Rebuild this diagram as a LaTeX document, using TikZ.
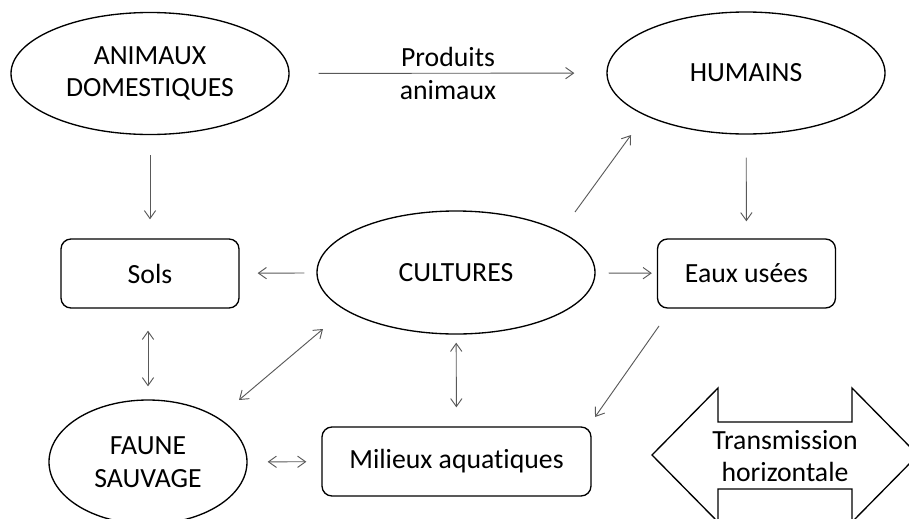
\documentclass[tikz,border=0pt]{standalone}
\usepackage{fontspec}
\setmainfont{Carlito}[Ligatures=NoCommon]
\usetikzlibrary{shapes.geometric,arrows.meta,calc}

\begin{document}
\begin{tikzpicture}[x=0.75pt,y=0.75pt,yscale=-1,xscale=1,
	every node/.style={font=\fontsize{20.8}{24.5}\selectfont, align=center},
	rond/.style={draw, ellipse, line width=1pt, inner sep=0pt, minimum width=208.5pt, minimum height=91.5pt},
	boite/.style={draw, rounded corners=7.5pt, line width=1pt, inner sep=0pt, minimum width=133.5pt, minimum height=51.75pt},
	fleche/.style={draw=black!65, line width=0.7pt, -{Straight Barb[length=6pt,width=8.5pt]}},
	fleche2/.style={fleche, {Straight Barb[length=6pt,width=8.5pt]}-{Straight Barb[length=6pt,width=8.5pt]}}]
	\useasboundingbox (0,0) rectangle (909,518);
	\clip (0,0) rectangle (909,518);
	
	%Shape: Ellipse
	\node[rond] (animaux) at (150,73.5) {ANIMAUX\\DOMESTIQUES};
	%Shape: Ellipse
	\node[rond] (humains) at (746,73) {HUMAINS};
	%Shape: Ellipse
	\node[rond, minimum height=92.25pt] (cultures) at (456,272.5) {CULTURES};
	%Shape: Ellipse
	\node[rond, minimum width=148.5pt, minimum height=93pt] (faune) at (148,462) {FAUNE\\SAUVAGE};
	%Shape: Rounded Rect
	\node[boite] (sols) at (150,273.5) {Sols};
	%Shape: Rounded Rect
	\node[boite] (eaux) at (746.5,273.5) {Eaux usées};
	%Shape: Rounded Rect
	\node[boite, minimum width=201.75pt] (milieux) at (456.5,461.5) {Milieux aquatiques};
	
	%Shape: Double Arrow
	\draw[line width=1pt] (652,455) -- (718,388) -- (718,422) -- (852,422) -- (852,388) -- (918,455) -- (852,522) -- (852,489) -- (718,489) -- (718,522) -- cycle;
	% Text Node
	\node (trans) at (785,456) {Transmission\\horizontale};
	
	%Straight Lines
	\draw[fleche, shorten <=21.75pt, shorten >=24pt] (animaux) -- (humains) node[midway] {Produits\\animaux};
	\draw[fleche, shorten <=15pt, shorten >=14.25pt] (animaux) -- (sols);
	\draw[fleche, shorten <=17.25pt, shorten >=12.75pt] (humains) -- (eaux);
	\draw[fleche, shorten <=9pt, shorten >=13.5pt] (cultures) -- (sols);
	\draw[fleche, shorten <=9.75pt, shorten >=3.75pt] (cultures) -- (eaux);
	\draw[fleche2, shorten <=16.5pt, shorten >=9.75pt] (sols.south -| faune.north) -- (faune.north);
	\draw[fleche2, shorten <=6pt, shorten >=14.25pt] (cultures) -- (milieux);
	\draw[fleche2, shorten <=15pt, shorten >=11.25pt] (faune) -- (milieux);
	%Diagonals
	\draw[fleche] ($(cultures)+(119,-60.5)$) -- ($(humains)+(-115,62)$);
	\draw[fleche2] ($(faune)+(91,-62)$) -- ($(cultures)+(-133,56.5)$);
	\draw[fleche] ($(eaux)+(-87.5,52.5)$) -- ($(milieux)+(138.5,-44.5)$);
	
\end{tikzpicture}
\end{document}
